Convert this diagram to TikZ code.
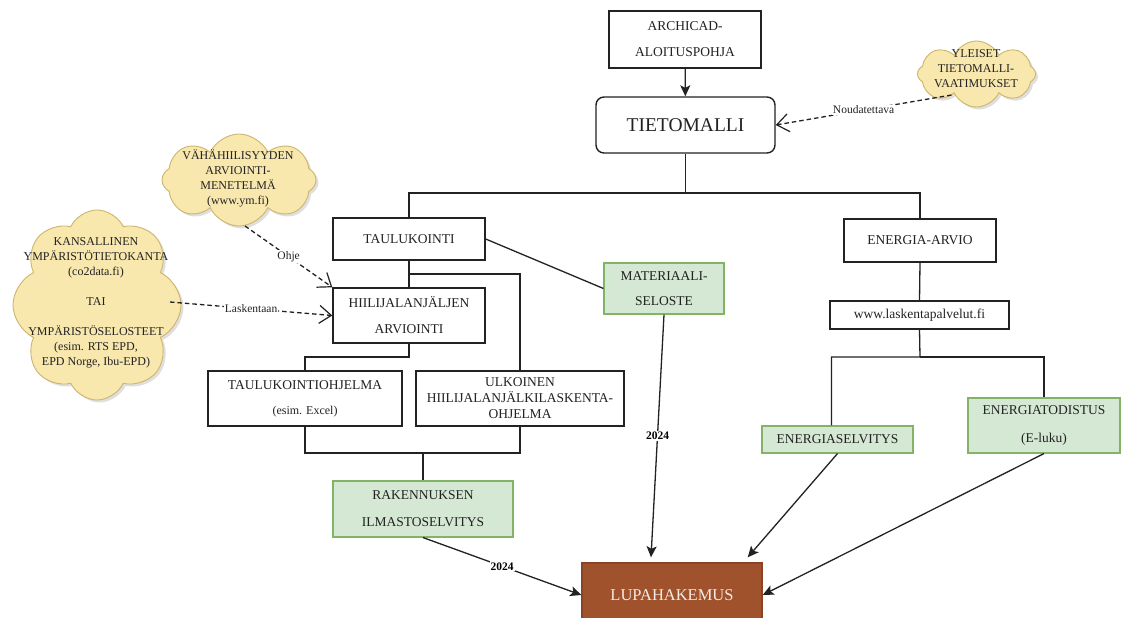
\documentclass[tikz,border=0pt]{standalone}
\usepackage{fontspec}
\setmainfont{Liberation Serif}
\usetikzlibrary{arrows.meta,shapes.symbols,shadows,calc}
\definecolor{gfill}{HTML}{D5E8D4}
\definecolor{gline}{HTML}{82B366}
\definecolor{cfill}{HTML}{F8E8AE}
\definecolor{cline}{HTML}{CDB66C}
\definecolor{lupafill}{HTML}{A0522D}
\definecolor{lupaline}{HTML}{8A4424}
\definecolor{ink}{HTML}{222222}
\newcommand{\bxfont}{\fontsize{13.5}{26}\selectfont}
\newcommand{\cldfont}{\fontsize{12}{15}\selectfont}
\newcommand{\lblfont}{\fontsize{11.5}{12}\selectfont}
\tikzset{
  box/.style={draw=ink, line width=1.4pt, fill=white, align=center, inner sep=0pt, text=ink, font=\bxfont},
  gbox/.style={box, draw=gline, line width=1.1pt, fill=gfill},
  cloudbox/.style={cloud, cloud puffs=8, cloud puff arc=130, cloud ignores aspect, draw=cline, line width=0.9pt, fill=cfill, inner sep=0pt,
     drop shadow={shadow xshift=2.5pt, shadow yshift=-2.5pt, opacity=0.25}},
  cloudtext/.style={align=center, inner sep=0pt, text=ink, font=\cldfont},
  conn/.style={draw=ink, line width=1.3pt},
  arr/.style={conn, -{Stealth[length=11pt,width=10pt,inset=2.5pt]}},
  darr/.style={draw=ink, line width=1.3pt, dash pattern=on 4.5pt off 3pt, -{Straight Barb[length=12pt,width=18pt,line width=1.2pt]}},
  lbl/.style={fill=white, inner sep=1pt, text=ink, font=\lblfont},
  yr/.style={fill=white, inner sep=1pt, text=black, font=\lblfont\bfseries},
}
\begin{document}
\begin{tikzpicture}[x=1pt,y=-1pt]
\useasboundingbox (0,0) rectangle (1121,618);
\clip (0,0) rectangle (1121,618);
\fill[white] (0,0) rectangle (1121,618);

% top
\node[box, minimum width=152, minimum height=57] (archicad) at (685,39.5) {ARCHICAD-\\ALOITUSPOHJA};
\node[box, rounded corners=8pt, minimum width=179, minimum height=56, font=\fontsize{19.5}{22}\selectfont] (tieto) at (685.5,125) {TIETOMALLI};

% clouds
\node[cloudbox, minimum width=118, minimum height=66] (ycloud) at (976.5,74) {};
\node[cloudtext] (ytext) at (976,69) {YLEISET\\TIETOMALLI-\\VAATIMUKSET};
\node[cloudbox, minimum width=154, minimum height=92] (vcloud) at (239,180) {};
\node[cloudtext] (vtext) at (238,178) {VÄHÄHIILISYYDEN\\ARVIOINTI-\\MENETELMÄ\\(www.ym.fi)};
\node[cloudbox, minimum width=168, minimum height=190] (kcloud) at (97,305) {};
\node[cloudtext] (ktext) at (96,302.5) {KANSALLINEN\\YMPÄRISTÖTIETOKANTA\\(co2data.fi)\\[15pt]TAI\\[15pt]YMPÄRISTÖSELOSTEET\\(esim. RTS EPD,\\EPD Norge, Ibu-EPD)};

% left branch
\node[box, minimum width=152, minimum height=42] (taulu) at (409,239) {TAULUKOINTI};
\node[box, minimum width=152, minimum height=55] (hiili) at (409,315.5) {HIILIJALANJÄLJEN\\ARVIOINTI};
\node[box, minimum width=194, minimum height=55] (tohj) at (305,398.5) {TAULUKOINTIOHJELMA\\[-1pt]{\fontsize{12}{14}\selectfont (esim. Excel)}};
\node[box, minimum width=208, minimum height=55, font=\fontsize{13.5}{16}\selectfont] (ulk) at (520,398.5) {ULKOINEN\\HIILIJALANJÄLKILASKENTA-\\OHJELMA};
\node[gbox, minimum width=180, minimum height=56, font=\fontsize{13.5}{27}\selectfont] (rak) at (423,509) {RAKENNUKSEN\\ILMASTOSELVITYS};
\node[gbox, minimum width=120, minimum height=51, font=\fontsize{13.5}{25}\selectfont] (mat) at (664,288.5) {MATERIAALI-\\SELOSTE};

% right branch
\node[box, minimum width=152, minimum height=43] (energia) at (920,240.5) {ENERGIA-ARVIO};
\node[box, minimum width=179, minimum height=28] (www) at (919.5,315) {www.laskentapalvelut.fi};
\node[gbox, minimum width=151, minimum height=27] (es) at (837.5,439.5) {ENERGIASELVITYS};
\node[gbox, minimum width=152, minimum height=55, font=\fontsize{13.5}{28}\selectfont] (et) at (1044,425.5) {ENERGIATODISTUS\\(E-luku)};

% target
\node[box, draw=lupaline, fill=lupafill, text={rgb,255:red,245;green,235;blue,228}, minimum width=180, minimum height=64, font=\fontsize{16.5}{18}\selectfont] (lupa) at (672,595) {LUPAHAKEMUS};

% junctions
\coordinate (j1) at (685.5,193);
\coordinate (j2) at (409,274);
\coordinate (j3) at (409,357);
\coordinate (j4) at (423,453);
\coordinate (j5) at (920,357);

% connectors
\draw[arr] (archicad) -- (tieto);
\draw[conn] (tieto.south) -- (j1) -| (taulu.north);
\draw[conn] (j1) -| (energia.north);
\draw[conn] (taulu.east) -- (mat.west);
\draw[conn] (taulu.south) -- (hiili.north);
\draw[conn] (j2) -| (ulk.north);
\draw[conn] (hiili.south) -- (j3) -| (tohj.north);
\draw[conn] (tohj.south) |- (j4) -| (ulk.south);
\draw[conn] (j4) -- (rak.north);
\draw[conn] (energia.south) -- (www.north);
\draw[conn] (www.south) -- (j5) -| ($(es.north)+(-6,0)$);
\draw[conn] (j5) -| (et.north);

% arrows to target
\draw[arr] (rak.south) -- node[yr, pos=0.5] {2024} (lupa.west);
\draw[arr] (mat.south) -- node[yr, pos=0.5] {2024} ($(lupa.north)+(-21,-5)$);
\draw[arr] (es.south) -- ($(lupa.north east)+(-15,-5)$);
\draw[arr] (et.south) -- (lupa.east);

% dashed
\draw[darr] ($(ycloud.center)+(-25,21)$) -- node[lbl, pos=0.5] {Noudatettava} (tieto.east);
\draw[darr] ($(vcloud.center)+(6,46)$) -- node[lbl, pos=0.5] {Ohje} (hiili.north west);
\draw[darr] ($(kcloud.center)+(73,-3)$) -- node[lbl, pos=0.5] {Laskentaan} (hiili.west);
\end{tikzpicture}
\end{document}
